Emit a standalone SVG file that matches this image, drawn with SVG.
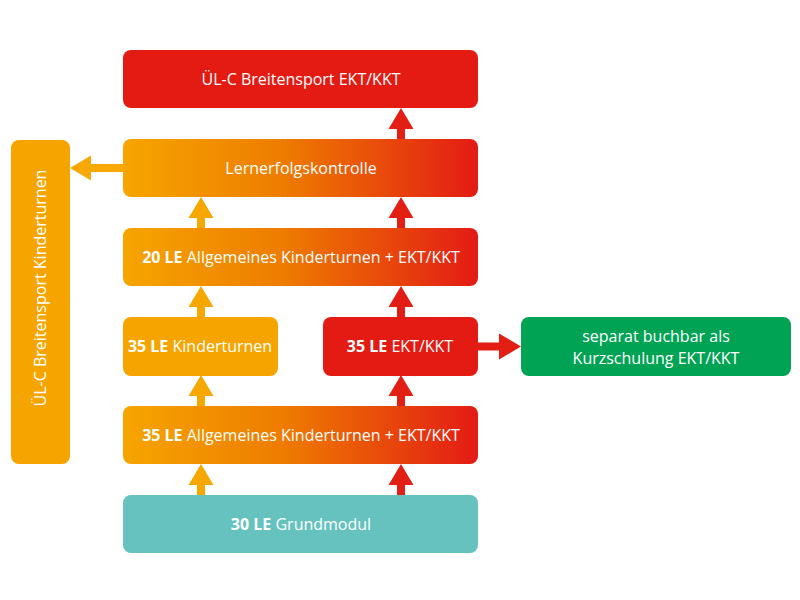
<svg xmlns="http://www.w3.org/2000/svg" width="800" height="600" viewBox="0 0 800 600">
  <defs>
    <linearGradient id="grad" x1="0" y1="0" x2="1" y2="0">
      <stop offset="0" stop-color="#F6A500"/>
      <stop offset="0.45" stop-color="#EE7C00"/>
      <stop offset="1" stop-color="#E31B15"/>
    </linearGradient>
    <style>
      .t { font-family: "Open Sans", "Noto Sans", sans-serif; font-size: 16px; fill: #FFFFFF; text-anchor: middle; }
      .b { font-weight: 700; }
      .red { fill: #E31B13; }
      .org { fill: #F6A500; }
      .grn { fill: #00A353; }
      .teal { fill: #66C2BE; }
      .grad { fill: url(#grad); }
      .ao { fill: #F6A800; }
      .ar { fill: #E31E14; }
    </style>
  </defs>
  <rect width="800" height="600" fill="#FFFFFF"/>

  <g id="connectors">
    <!-- orange vertical arrows x=201 -->
    <polygon class="ao" points="197,495 197,485 188.5,485 201,464 213.5,485 205,485 205,495"/>
    <polygon class="ao" points="197,406 197,396 188.5,396 201,375 213.5,396 205,396 205,406"/>
    <polygon class="ao" points="197,317 197,307 188.5,307 201,286 213.5,307 205,307 205,317"/>
    <polygon class="ao" points="197,228 197,218 188.5,218 201,197 213.5,218 205,218 205,228"/>
    <!-- red vertical arrows x=401 -->
    <polygon class="ar" points="397,495 397,485 388.5,485 401,464 413.5,485 405,485 405,495"/>
    <polygon class="ar" points="397,406 397,396 388.5,396 401,375 413.5,396 405,396 405,406"/>
    <polygon class="ar" points="397,317 397,307 388.5,307 401,286 413.5,307 405,307 405,317"/>
    <polygon class="ar" points="397,228 397,218 388.5,218 401,197 413.5,218 405,218 405,228"/>
    <polygon class="ar" points="397,139 397,129 388.5,129 401,108 413.5,129 405,129 405,139"/>
    <!-- left arrow to vertical box -->
    <polygon class="ao" points="123,164 91,164 91,155.5 70,168 91,180.5 91,172 123,172"/>
    <!-- right arrow to green box -->
    <polygon class="ar" points="478,342.5 499,342.5 499,333.5 521,346.5 499,359.5 499,350.5 478,350.5"/>
  </g>

  <g id="node-uel-kinderturnen">
    <rect class="org" x="11" y="140" width="59" height="324" rx="8"/>
    <text class="t" transform="translate(46,288) rotate(-90)">ÜL-C Breitensport Kinderturnen</text>
  </g>

  <g id="node-uel-ekt">
    <rect class="red" x="123" y="50" width="355" height="58" rx="8"/>
    <text class="t" x="301" y="85">ÜL-C Breitensport EKT/KKT</text>
  </g>

  <g id="node-lernerfolg">
    <rect class="grad" x="123" y="139" width="355" height="58" rx="8"/>
    <text class="t" x="301" y="174">Lernerfolgskontrolle</text>
  </g>

  <g id="node-20le">
    <rect class="grad" x="123" y="228" width="355" height="58" rx="8"/>
    <text class="t" x="301" y="263"><tspan class="b">20 LE</tspan> Allgemeines Kinderturnen + EKT/KKT</text>
  </g>

  <g id="node-35le-kinderturnen">
    <rect class="org" x="123" y="317" width="155" height="59" rx="8"/>
    <text class="t" x="200" y="352"><tspan class="b">35 LE</tspan> Kinderturnen</text>
  </g>

  <g id="node-35le-ekt">
    <rect class="red" x="323" y="317" width="155" height="59" rx="8"/>
    <text class="t" x="400" y="352"><tspan class="b">35 LE</tspan> EKT/KKT</text>
  </g>

  <g id="node-kurzschulung">
    <rect class="grn" x="521" y="317" width="270" height="59" rx="8"/>
    <text class="t" x="656" y="342">separat buchbar als</text>
    <text class="t" x="656" y="364">Kurzschulung EKT/KKT</text>
  </g>

  <g id="node-35le-allgemein">
    <rect class="grad" x="123" y="406" width="355" height="58" rx="8"/>
    <text class="t" x="301" y="441"><tspan class="b">35 LE</tspan> Allgemeines Kinderturnen + EKT/KKT</text>
  </g>

  <g id="node-grundmodul">
    <rect class="teal" x="123" y="495" width="355" height="58" rx="8"/>
    <text class="t" x="301" y="530"><tspan class="b">30 LE</tspan> Grundmodul</text>
  </g>
</svg>
